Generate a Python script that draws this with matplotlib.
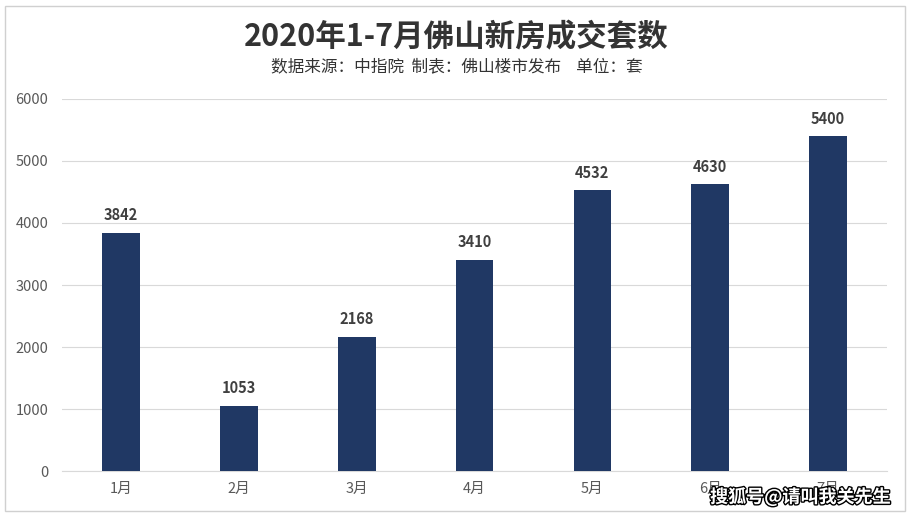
import matplotlib
matplotlib.use("Agg")
import matplotlib.pyplot as plt
import matplotlib.patheffects as pe
from matplotlib.patches import Rectangle

plt.rcParams['font.family'] = ['Noto Sans CJK SC', 'DejaVu Sans']

months = ['1月', '2月', '3月', '4月', '5月', '6月', '7月']
sales = [3842, 1053, 2168, 3410, 4532, 4630, 5400]
yticks = [0, 1000, 2000, 3000, 4000, 5000, 6000]

fig = plt.figure(figsize=(9.13, 5.18), dpi=100)
ax = fig.add_axes([0.068, 0.0907, 0.9035, 0.7182])

bars = ax.bar(range(len(months)), sales, width=0.32, color='#203864', zorder=3)
for x, v in zip(range(len(months)), sales):
    ax.text(x, v + 150, str(v), ha='center', va='bottom', fontsize=10.5,
            fontweight='bold', color='#404040')

ax.set_xlim(-0.5, len(months) - 0.5)
ax.set_ylim(0, 6000)
ax.set_yticks(yticks)
ax.set_xticks(range(len(months)))
ax.set_xticklabels(months)
ax.tick_params(axis='both', length=0, labelsize=10.5, colors='#595959', pad=8)
ax.tick_params(axis='y', pad=10)
ax.grid(axis='y', color='#d9d9d9', linewidth=0.8, zorder=0)
for s in ['top', 'right', 'left']:
    ax.spines[s].set_visible(False)
ax.spines['bottom'].set_color('#d9d9d9')

fig.text(0.5, 0.928, '2020年1-7月佛山新房成交套数', ha='center', va='center',
         fontsize=22, fontweight='bold', color='#333333')
fig.text(0.5, 0.872, '数据来源：中指院  制表：佛山楼市发布    单位：套', ha='center',
         va='center', fontsize=12, color='#333333')

# light frame around the whole chart
fig.patches.append(Rectangle((5 / 913, 1 - 511 / 518), 900 / 913, 505 / 518,
                             transform=fig.transFigure, fill=False,
                             edgecolor='#d0d0d0', linewidth=1))

fig.text(0.975, 0.04, '搜狐号@请叫我关先生', ha='right', va='center', fontsize=13,
         fontweight='bold', color='white',
         path_effects=[pe.withStroke(linewidth=2, foreground='black')])

fig.savefig('out.png', dpi=100)
